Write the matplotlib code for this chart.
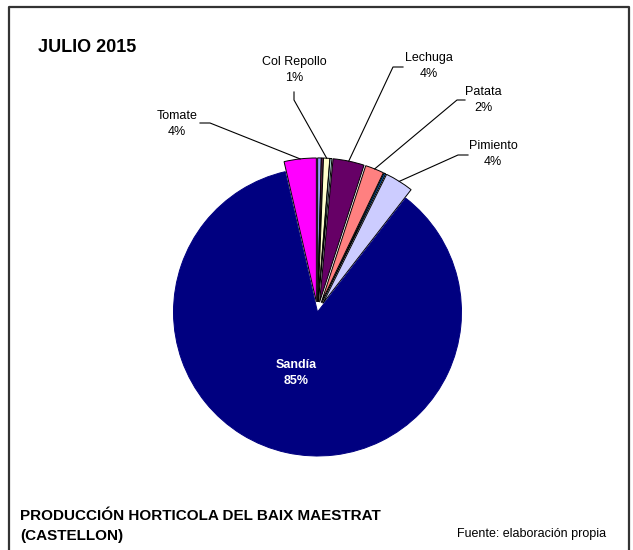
import numpy as np
import matplotlib
matplotlib.use('Agg')
import matplotlib.pyplot as plt

plt.rcParams['font.family'] = ['Liberation Sans', 'DejaVu Sans']

# datos (porcentaje de produccion), orden de la serie en la hoja
cultivos = ['', '', 'Col Repollo', '', 'Lechuga', 'Patata', '', 'Pimiento', 'Sandía', 'Tomate']
valores = [0.4, 0.2, 0.7, 0.2, 3.5, 2.1, 0.2, 3.2, 85.9, 3.6]
etiq_pct = ['', '', '1%', '', '4%', '2%', '', '4%', '85%', '4%']
colores = ['#9999FF', '#993366', '#FFFFCC', '#CCFFFF', '#660066',
           '#FF8080', '#0066CC', '#CCCCFF', '#000080', '#FF00FF']

W, H = 633, 550
fig = plt.figure(figsize=(W / 100, H / 100), dpi=100)
ax = fig.add_axes([0, 0, 1, 1])

def py(y):
    # pixel (desde arriba) -> coordenada de datos
    return H - y

centro = (317.5, py(312))
radio = 144
# pie() desplaza en unidades de datos
explode = [0.0 if c == 'Sandía' else 0.07 * radio for c in cultivos]

wedges, _ = ax.pie(valores, colors=colores, explode=explode, startangle=90,
                   counterclock=False, center=centro, radius=radio, frame=True,
                   wedgeprops=dict(edgecolor='black', linewidth=0.7))
wedges[cultivos.index('Sandía')].set_edgecolor('#000080')
ax.set_xlim(0, W)
ax.set_ylim(0, H)
ax.set_aspect('equal')
ax.axis('off')

# posicion de las etiquetas (pixeles) y codo de la linea guia
pos_etiq = {
    'Col Repollo': ((294, 70), [(294, 92), (294, 100)]),
    'Lechuga': ((429, 66), [(403, 67), (393, 67)]),
    'Patata': ((483, 100), [(465, 100), (457, 100)]),
    'Pimiento': ((493, 154), [(468, 155), (458, 155)]),
    'Tomate': ((177, 124), [(200, 123), (210, 123)]),
}

for w, nombre, pct in zip(wedges, cultivos, etiq_pct):
    if nombre == 'Sandía':
        ax.text(296, py(373), nombre + '\n' + pct, color='white', fontsize=9,
                fontweight='bold', ha='center', va='center', linespacing=1.45)
        continue
    if nombre not in pos_etiq:
        continue
    (tx, ty), codo = pos_etiq[nombre]
    ax.text(tx, py(ty), nombre + '\n' + pct, fontsize=9, ha='center',
            va='center', linespacing=1.45)
    ang = np.deg2rad((w.theta1 + w.theta2) / 2)
    cx, cy = w.center
    px_, py_ = cx + w.r * np.cos(ang), cy + w.r * np.sin(ang)
    xs = [codo[0][0], codo[1][0], px_]
    ys = [py(codo[0][1]), py(codo[1][1]), py_]
    ax.plot(xs, ys, color='black', lw=0.8)

# marco
ax.plot([9, 9, 629, 629], [-5, py(7), py(7), -5], color='#333333', lw=1.6)

ax.text(38, py(47), 'JULIO 2015', fontsize=13, fontweight='bold',
        ha='left', va='center')
ax.text(20, py(516), 'PRODUCCIÓN HORTICOLA DEL BAIX MAESTRAT', fontsize=11,
        fontweight='bold', ha='left', va='center')
ax.text(20, py(536), '(CASTELLON)', fontsize=11, fontweight='bold',
        ha='left', va='center')
ax.text(606, py(534), 'Fuente: elaboración propia', fontsize=9,
        ha='right', va='center')

fig.savefig('out.png', dpi=100)
